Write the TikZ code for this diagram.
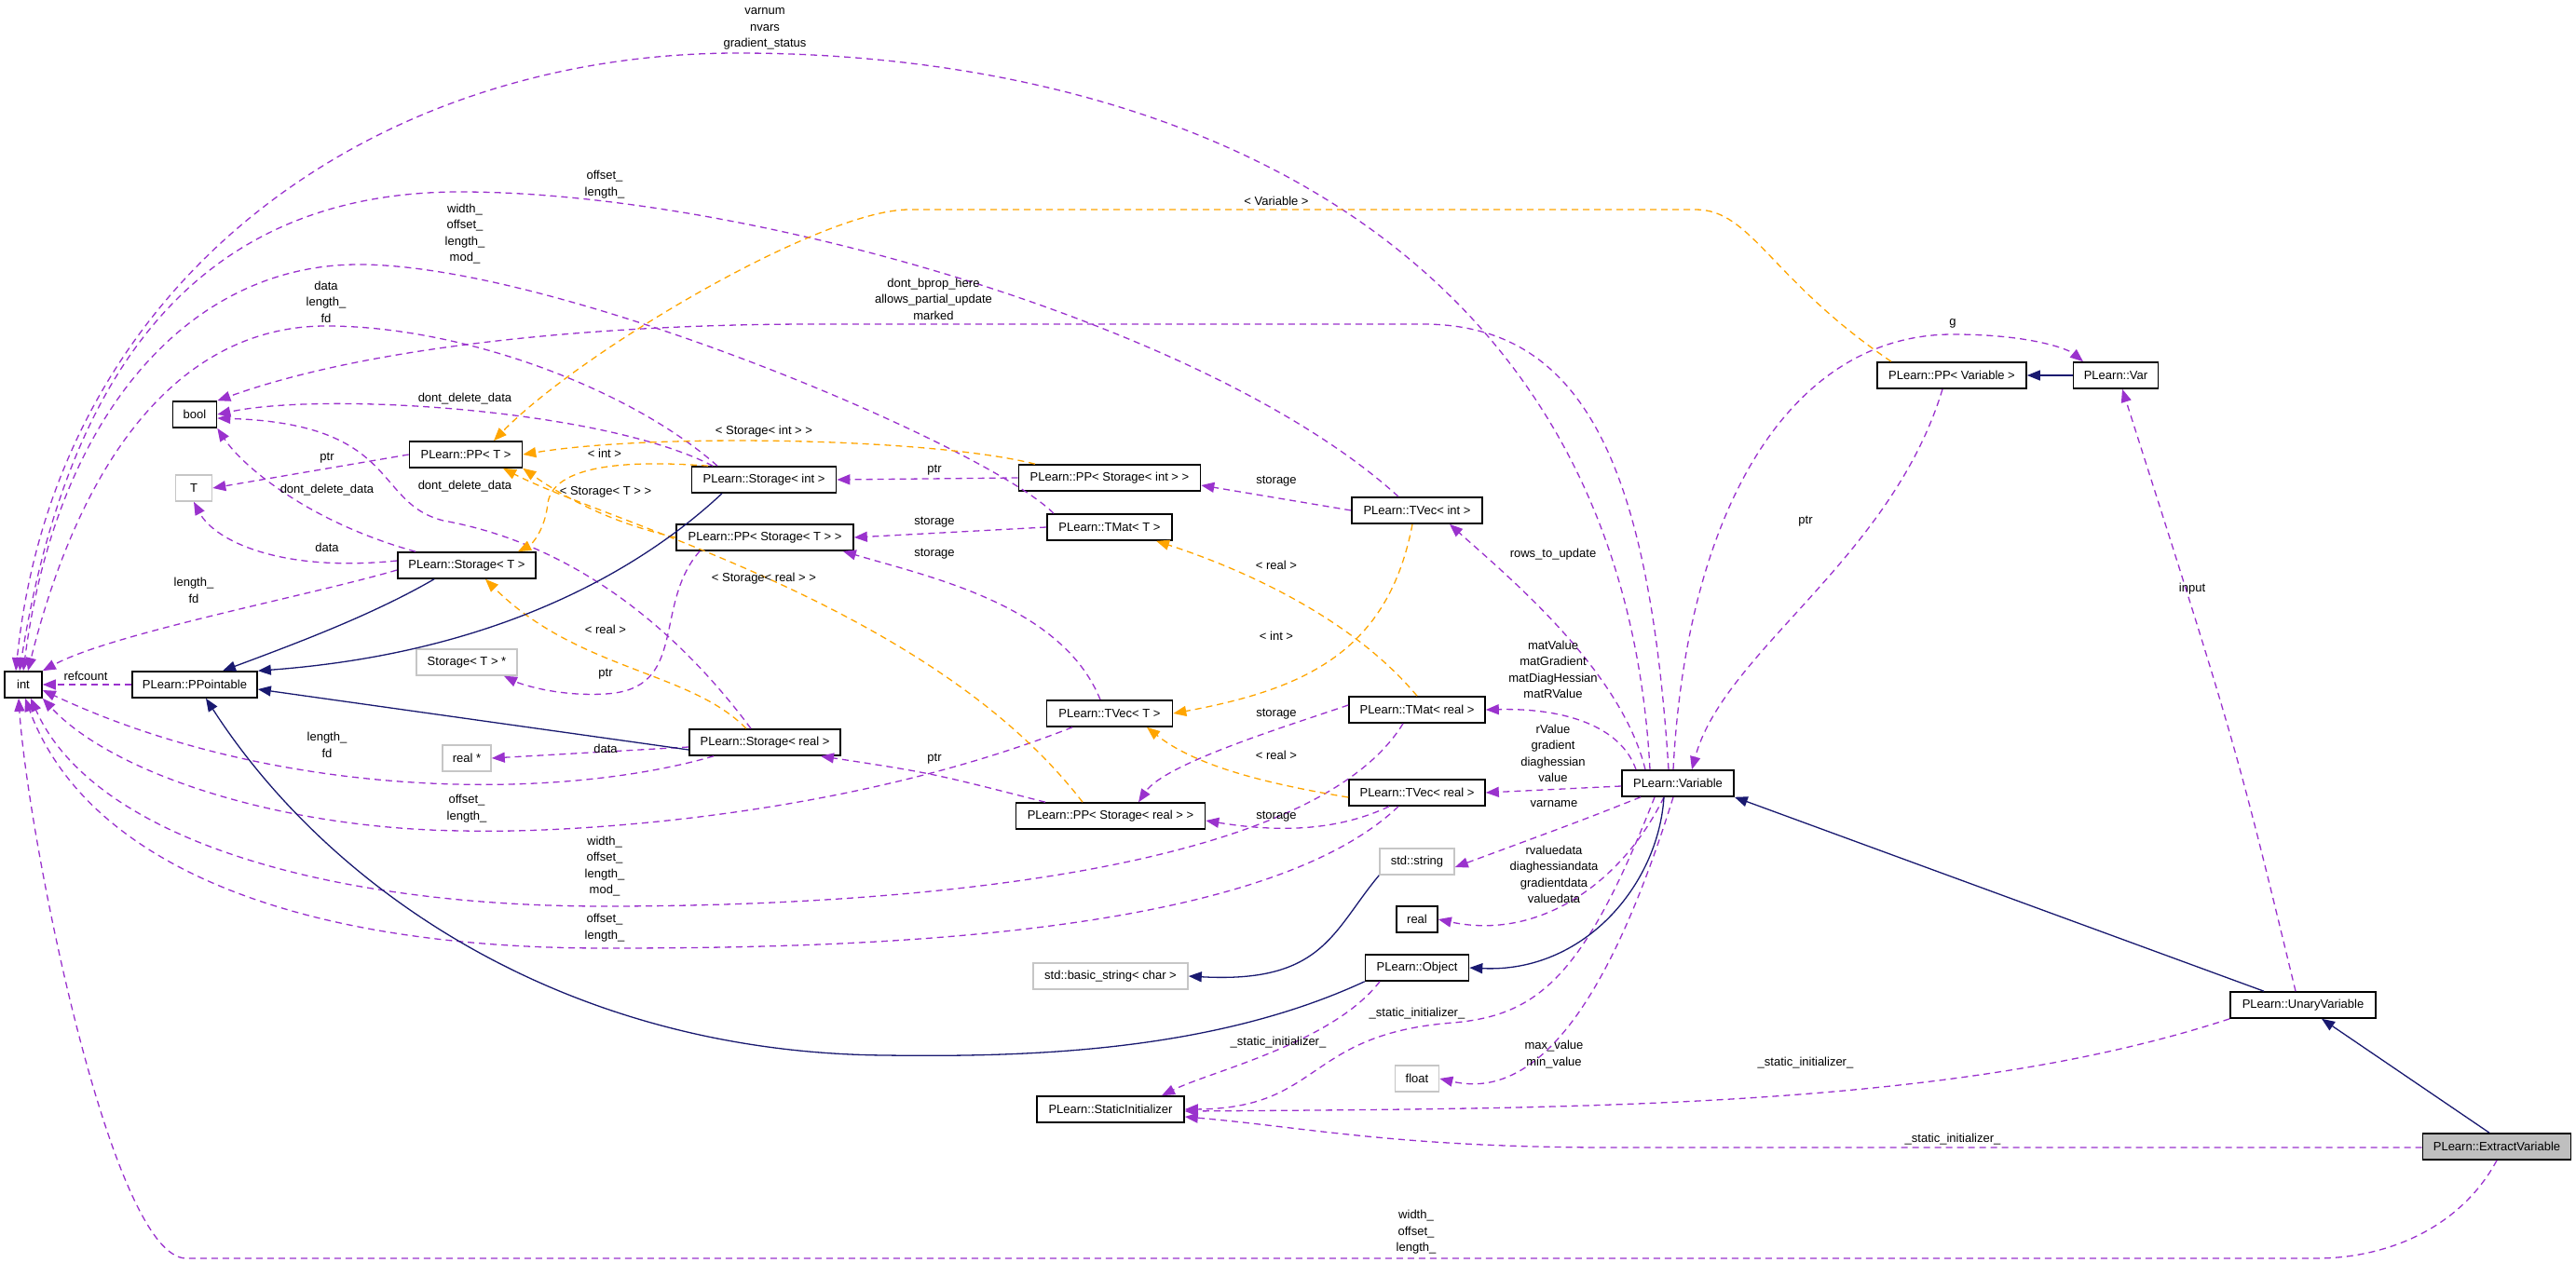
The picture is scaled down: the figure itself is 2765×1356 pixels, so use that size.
\documentclass[tikz,border=0pt]{standalone}
\usepackage{fontspec}
\setmainfont{Liberation Sans}
\usetikzlibrary{arrows.meta}
\definecolor{memcol}{HTML}{9A32CD}
\definecolor{tplcol}{HTML}{FFA500}
\definecolor{inhcol}{HTML}{191970}
\tikzset{
  cls/.style={draw=black, line width=1.6pt, minimum height=28, inner sep=0pt, font=\fontsize{13}{17.5}\selectfont},
  ext/.style={cls, draw=gray!45},
  mem/.style={memcol, line width=1.3pt, dash pattern=on 7pt off 5pt, -{Triangle[length=14pt,width=11pt]}},
  tpl/.style={mem, tplcol},
  inh/.style={inhcol, line width=1.3pt, -{Triangle[length=14pt,width=11pt]}},
  lbl/.style={align=center, inner sep=0pt, font=\fontsize{13}{17.5}\selectfont}
}
\begin{document}
\begin{tikzpicture}[x=1pt,y=-1pt]
  \useasboundingbox (0,0) rectangle (2765,1356);
  % Classes
  \node[cls, minimum width=40] (int) at (25,735) {int};
  \node[cls, minimum width=47] (bool) at (209,445) {bool};
  \node[ext, minimum width=39] (T) at (208,524) {T};
  \node[cls, minimum width=121] (PPT) at (500,488) {PLearn::PP< T >};
  \node[cls, minimum width=155] (StorInt) at (820,515) {PLearn::Storage< int >};
  \node[cls, minimum width=195] (PPStorInt) at (1191,513) {PLearn::PP< Storage< int > >};
  \node[cls, minimum width=140] (TVecInt) at (1521,548) {PLearn::TVec< int >};
  \node[cls, minimum width=190] (PPStorT) at (821,577) {PLearn::PP< Storage< T > >};
  \node[cls, minimum width=134] (TMatT) at (1191,566) {PLearn::TMat< T >};
  \node[cls, minimum width=148] (StorT) at (501,607) {PLearn::Storage< T >};
  \node[ext, minimum width=108] (StorTptr) at (501,711) {Storage< T > *};
  \node[cls, minimum width=134] (PPointable) at (209,735) {PLearn::PPointable};
  \node[cls, minimum width=135] (TVecT) at (1191,766) {PLearn::TVec< T >};
  \node[ext, minimum width=52] (realptr) at (501,814) {real *};
  \node[cls, minimum width=162] (StorReal) at (821,797) {PLearn::Storage< real >};
  \node[cls, minimum width=146] (TMatReal) at (1521,762) {PLearn::TMat< real >};
  \node[cls, minimum width=203] (PPStorReal) at (1192,876) {PLearn::PP< Storage< real > >};
  \node[cls, minimum width=146] (TVecReal) at (1521,851) {PLearn::TVec< real >};
  \node[cls, minimum width=120] (Variable) at (1801,841) {PLearn::Variable};
  \node[ext, minimum width=80] (string) at (1521,925) {std::string};
  \node[cls, minimum width=44] (real) at (1521,987) {real};
  \node[ext, minimum width=166] (basicstr) at (1192,1048) {std::basic\_string< char >};
  \node[cls, minimum width=111] (Object) at (1521,1039) {PLearn::Object};
  \node[cls, minimum width=158] (StatInit) at (1192,1191) {PLearn::StaticInitializer};
  \node[ext, minimum width=47] (float) at (1521,1158) {float};
  \node[cls, minimum width=156] (UnaryVar) at (2472,1079) {PLearn::UnaryVariable};
  \node[cls, fill=gray!50, minimum width=159] (ExtractVar) at (2680,1231) {PLearn::ExtractVariable};
  \node[cls, minimum width=160] (PPVar) at (2095,403) {PLearn::PP< Variable >};
  \node[cls, minimum width=91] (Var) at (2271,403) {PLearn::Var};

  % Members typed int
  \draw[mem] ([xshift=-30]Variable.north) .. controls (1740,250) and (1250,57) .. (792,57) .. controls (400,57) and (60,300) .. ([xshift=-8]int.north);
  \draw[mem] ([xshift=-20]TVecInt.north) .. controls (1300,350) and (800,206) .. (494,206) .. controls (250,206) and (80,350) .. ([xshift=-4]int.north);
  \draw[mem] ([xshift=-60]TMatT.north) .. controls (1060,480) and (600,284) .. (385,284) .. controls (200,284) and (60,450) .. (int.north);
  \draw[mem] ([xshift=-50]StorInt.north) .. controls (680,420) and (500,350) .. (350,350) .. controls (200,350) and (90,480) .. ([xshift=5]int.north);
  \draw[mem] ([yshift=-5]StorT.west) .. controls (330,640) and (120,680) .. (int.north east);
  \draw[mem] (PPointable.west) -- (int.east);
  \draw[mem] ([xshift=-55]StorReal.south) .. controls (600,860) and (300,860) .. ([yshift=-6]int.east);
  \draw[mem] ([xshift=-40]TVecT.south) .. controls (900,880) and (600,895) .. (497,892) .. controls (300,890) and (120,830) .. (int.south east);
  \draw[mem] ([xshift=-15]TMatReal.south) .. controls (1400,950) and (900,973) .. (649,973) .. controls (350,973) and (100,900) .. ([xshift=8]int.south);
  \draw[mem] ([xshift=-20]TVecReal.south) .. controls (1350,1010) and (900,1018) .. (649,1018) .. controls (300,1018) and (90,920) .. ([xshift=2]int.south);
  \draw[mem] (ExtractVar.south) .. controls (2640,1320) and (2560,1351) .. (2486,1351) -- (200,1351) .. controls (120,1351) and (30,900) .. ([xshift=-5]int.south);
  \node[lbl] at (821,31) {varnum\\nvars\\gradient\_status};
  \node[lbl] at (649,198) {offset\_\\length\_};
  \node[lbl] at (499,251) {width\_\\offset\_\\length\_\\mod\_};
  \node[lbl] at (350,324) {data\\length\_\\fd};
  \node[lbl] at (208,634) {length\_\\fd};
  \node[lbl] at (92,726) {refcount};
  \node[lbl] at (351,800) {length\_\\fd};
  \node[lbl] at (501,868) {offset\_\\length\_};
  \node[lbl] at (649,930) {width\_\\offset\_\\length\_\\mod\_};
  \node[lbl] at (649,996) {offset\_\\length\_};
  \node[lbl] at (1520,1323) {width\_\\offset\_\\length\_};

  % Members typed bool and T
  \draw[mem] ([xshift=-10]Variable.north) .. controls (1770,500) and (1700,348) .. (1527,348) -- (873,348) .. controls (650,348) and (400,370) .. (bool.north east);
  \draw[mem] ([xshift=-55]StorInt.north) .. controls (650,440) and (350,420) .. (bool.east);
  \draw[mem] ([xshift=-15]StorReal.north) .. controls (730,680) and (620,585) .. (476,559) .. controls (400,540) and (430,455) .. ([yshift=-4]bool.east);
  \draw[mem] ([xshift=-55]StorT.north) .. controls (330,560) and (260,500) .. (bool.south east);
  \draw[mem] (PPT.west) -- (T.east);
  \draw[mem] ([yshift=5]StorT.west) .. controls (300,615) and (230,580) .. (T.south);
  \node[lbl] at (1002,321) {dont\_bprop\_here\\allows\_partial\_update\\marked};
  \node[lbl] at (499,428) {dont\_delete\_data};
  \node[lbl] at (351,526) {dont\_delete\_data};
  \node[lbl] at (499,522) {dont\_delete\_data};
  \node[lbl] at (351,492) {ptr};
  \node[lbl] at (351,588) {data};

  % Template instances
  \draw[tpl] ([xshift=-65]PPVar.north) .. controls (1900,300) and (1880,225) .. (1820,225) -- (976,225) .. controls (880,225) and (620,380) .. ([xshift=30]PPT.north);
  \draw[tpl] ([xshift=-80]PPStorInt.north) .. controls (1000,470) and (700,465) .. (PPT.east);
  \draw[tpl] (PPStorT.west) .. controls (650,560) and (600,530) .. (PPT.south east);
  \draw[tpl] ([xshift=-30]PPStorReal.north) .. controls (1000,650) and (650,560) .. ([xshift=40]PPT.south);
  \draw[tpl] ([xshift=-60]StorInt.north) .. controls (690,495) and (595,495) .. (588,540) .. controls (585,570) and (570,585) .. ([xshift=55]StorT.north);
  \draw[tpl] ([xshift=-20]StorReal.north) .. controls (740,720) and (620,720) .. ([xshift=20]StorT.south);
  \draw[tpl] (TMatReal.north) .. controls (1440,650) and (1300,600) .. ([xshift=50]TMatT.south);
  \draw[tpl] ([xshift=-5]TVecInt.south) .. controls (1490,700) and (1400,740) .. (TVecT.east);
  \draw[tpl] ([yshift=-5]TVecReal.west) .. controls (1350,840) and (1280,820) .. ([xshift=40]TVecT.south);
  \node[lbl] at (1370,216) {< Variable >};
  \node[lbl] at (820,463) {< Storage< int > >};
  \node[lbl] at (650,528) {< Storage< T > >};
  \node[lbl] at (820,621) {< Storage< real > >};
  \node[lbl] at (649,487) {< int >};
  \node[lbl] at (650,676) {< real >};
  \node[lbl] at (1370,607) {< real >};
  \node[lbl] at (1370,683) {< int >};
  \node[lbl] at (1370,811) {< real >};

  % Storage members
  \draw[mem] (PPStorInt.west) -- (StorInt.east);
  \draw[mem] (TVecInt.west) -- ([yshift=-8]PPStorInt.east);
  \draw[mem] (TMatT.west) -- (PPStorT.east);
  \draw[mem] ([xshift=-10]TVecT.north) .. controls (1140,650) and (1000,620) .. ([xshift=-12]PPStorT.south east);
  \draw[mem] ([xshift=-70]PPStorT.south) .. controls (700,650) and (740,740) .. (650,745) .. controls (600,748) and (560,735) .. ([xshift=40]StorTptr.south);
  \draw[mem] ([yshift=-5]StorReal.west) -- (realptr.east);
  \draw[mem] ([xshift=-70]PPStorReal.north) .. controls (1000,830) .. ([xshift=60]StorReal.south);
  \draw[mem] ([yshift=5]TMatReal.west) .. controls (1380,780) and (1250,820) .. ([xshift=30]PPStorReal.north);
  \draw[mem] ([xshift=-30]TVecReal.south) .. controls (1440,890) and (1380,895) .. ([yshift=-5]PPStorReal.east);
  \node[lbl] at (1003,505) {ptr};
  \node[lbl] at (1370,517) {storage};
  \node[lbl] at (1003,561) {storage};
  \node[lbl] at (1003,595) {storage};
  \node[lbl] at (650,724) {ptr};
  \node[lbl] at (650,804) {data};
  \node[lbl] at (1003,815) {ptr};
  \node[lbl] at (1370,767) {storage};
  \node[lbl] at (1370,877) {storage};

  % Variable members
  \draw[mem] ([xshift=-35]Variable.north) .. controls (1740,720) and (1620,620) .. ([xshift=35]TVecInt.south);
  \draw[mem] ([xshift=-45]Variable.north) .. controls (1740,780) and (1680,760) .. (TMatReal.east);
  \draw[mem] ([yshift=-3]Variable.west) -- (TVecReal.east);
  \draw[mem] ([xshift=-40]Variable.south) .. controls (1700,880) .. ([yshift=-6]string.east);
  \draw[mem] ([xshift=-15]Variable.south) .. controls (1740,950) and (1650,1010) .. (real.east);
  \draw[mem] ([xshift=-5]Variable.south) .. controls (1720,1100) and (1640,1180) .. (float.east);
  \draw[mem] ([xshift=-25]Variable.south) .. controls (1700,1050) and (1650,1090) .. (1560,1098) .. controls (1400,1110) and (1420,1190) .. (StatInit.east);
  \draw[mem] ([xshift=-40]Object.south) .. controls (1430,1120) and (1300,1150) .. ([xshift=55]StatInit.north);
  \draw[mem] (UnaryVar.south west) .. controls (2100,1190) and (1700,1190) .. ([yshift=-2]StatInit.east);
  \draw[mem] ([yshift=-1]ExtractVar.west) -- (1730,1232) .. controls (1500,1232) and (1400,1210) .. ([yshift=-8]StatInit.east);
  \draw[mem] ([xshift=-10]PPVar.south) .. controls (2030,600) and (1850,700) .. ([xshift=15]Variable.north);
  \draw[mem] ([xshift=-5]Variable.north) .. controls (1810,550) and (1920,359) .. (2096,359) .. controls (2180,359) and (2220,375) .. ([xshift=-35]Var.north);
  \draw[mem] ([xshift=-8]UnaryVar.north) .. controls (2400,800) .. ([xshift=7]Var.south);
  \node[lbl] at (1667,595) {rows\_to\_update};
  \node[lbl] at (1667,719) {matValue\\matGradient\\matDiagHessian\\matRValue};
  \node[lbl] at (1667,809) {rValue\\gradient\\diaghessian\\value};
  \node[lbl] at (1668,863) {varname};
  \node[lbl] at (1668,939) {rvaluedata\\diaghessiandata\\gradientdata\\valuedata};
  \node[lbl] at (1668,1132) {max\_value\\min\_value};
  \node[lbl] at (1521,1088) {\_static\_initializer\_};
  \node[lbl] at (1372,1119) {\_static\_initializer\_};
  \node[lbl] at (1938,1141) {\_static\_initializer\_};
  \node[lbl] at (2096,1223) {\_static\_initializer\_};
  \node[lbl] at (1938,560) {ptr};
  \node[lbl] at (2096,347) {g};
  \node[lbl] at (2353,632) {input};

  % Inheritance
  \draw[inh] ([xshift=-35]StorT.south) .. controls (400,660) and (320,690) .. ([xshift=30]PPointable.north);
  \draw[inh] ([xshift=-45]StorInt.south) .. controls (700,600) and (550,700) .. (PPointable.north east);
  \draw[inh] ([yshift=-8]StorReal.west) -- ([yshift=-5]PPointable.east);
  \draw[inh] (Object.south west) .. controls (1300,1130) and (1100,1135) .. (950,1133) .. controls (600,1130) and (350,950) .. ([xshift=12]PPointable.south);
  \draw[inh] ([xshift=-15]Variable.south) .. controls (1780,950) and (1700,1045) .. (Object.east);
  \draw[inh] (string.south west) .. controls (1430,1000) and (1420,1056) .. (basicstr.east);
  \draw[inh] ([xshift=-42]UnaryVar.north) -- (Variable.south east);
  \draw[inh] ([xshift=-8]ExtractVar.north) -- ([xshift=20]UnaryVar.south);
  \draw[inh] (Var.west) -- (PPVar.east);
\end{tikzpicture}
\end{document}
